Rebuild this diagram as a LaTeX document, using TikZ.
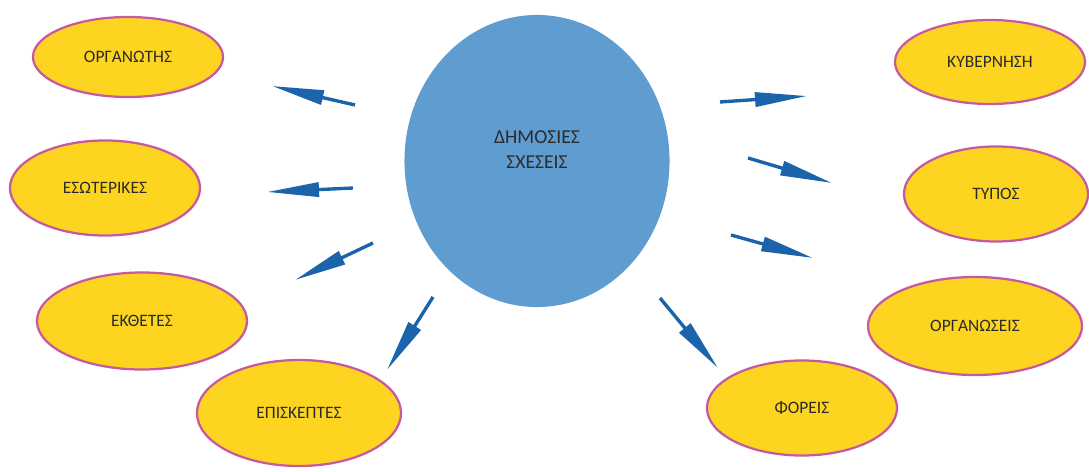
\documentclass[tikz,border=0pt]{standalone}
\usepackage{fontspec}
\setmainfont{Carlito}
\usepackage{xcolor}
\usetikzlibrary{shapes.geometric, arrows.meta, positioning, calc}
\definecolor{hubblue}{HTML}{5F9CCF}
\definecolor{leafgold}{HTML}{FDD520}
\definecolor{leafrim}{HTML}{C65AA0}
\definecolor{arrowblue}{HTML}{1B63AA}
\definecolor{labelgray}{HTML}{2B2B2B}
\tikzstyle{hub} = [ellipse, minimum width=6.625cm, minimum height=7.3cm, inner sep=0pt, fill=hubblue]
\tikzstyle{hubtext} = [align=center, text=labelgray, font=\fontsize{14}{17.7}\selectfont]
\tikzstyle{leaf} = [ellipse, inner sep=0pt, draw=leafrim, line width=1.6pt, fill=leafgold, text=labelgray, font=\fontsize{12.4}{14}\selectfont]
\tikzstyle{arrow} = [line width=2.4pt, draw=arrowblue, -{Triangle[length=37pt, width=10pt]}]

\begin{document}
\begin{tikzpicture}[x=0.025cm, y=-0.025cm]
    \useasboundingbox (0,0) rectangle (1089,472);
% Centre
    \node (hub) [hub] at (537,161) {};
    \node (hubtext) [hubtext] at ($(hub.center)+(0,-11)$) {ΔΗΜΟΣΙΕΣ\\ΣΧΕΣΕΙΣ};

    % Left side
    \node (organotis) [leaf, minimum width=4.75cm, minimum height=2cm] at (128,57) {ΟΡΓΑΝΩΤΗΣ};
    \node (esoterikes) [leaf, minimum width=4.75cm, minimum height=2.375cm] at (105,188) {ΕΣΩΤΕΡΙΚΕΣ};
    \node (ektheetes) [leaf, minimum width=5.25cm, minimum height=2.425cm] at (142,321) {ΕΚΘΕΤΕΣ};
    \node (episkeptes) [leaf, minimum width=5.1cm, minimum height=2.65cm] at (299,413) {ΕΠΙΣΚΕΠΤΕΣ};

    % Right side
    \node (kyvernisi) [leaf, minimum width=4.75cm, minimum height=2.1cm] at (990,62) {ΚΥΒΕΡΝΗΣΗ};
    \node (typos) [leaf, minimum width=4.6cm, minimum height=2.375cm] at (996,194) {ΤΥΠΟΣ};
    \node (organoseis) [leaf, minimum width=5.35cm, minimum height=2.45cm] at (975,326) {ΟΡΓΑΝΩΣΕΙΣ};
    \node (foreis) [leaf, minimum width=4.75cm, minimum height=2.375cm] at (802,408) {ΦΟΡΕΙΣ};

    % Arrow ends
    \coordinate (s1) at (355,105); \coordinate (e1) at (272,86);
    \coordinate (s2) at (353,188); \coordinate (e2) at (267,192);
    \coordinate (s3) at (373,243); \coordinate (e3) at (295,280);
    \coordinate (s4) at (433,297); \coordinate (e4) at (387,370);
    \coordinate (s5) at (720,102); \coordinate (e5) at (807,96);
    \coordinate (s6) at (748,158); \coordinate (e6) at (832,183);
    \coordinate (s7) at (731,235); \coordinate (e7) at (813,258);
    \coordinate (s8) at (660,298); \coordinate (e8) at (718,368);

    % Arrows
    \foreach \i in {1,...,8}
        \draw [arrow] (s\i) -- (e\i);
\end{tikzpicture}
\end{document}
